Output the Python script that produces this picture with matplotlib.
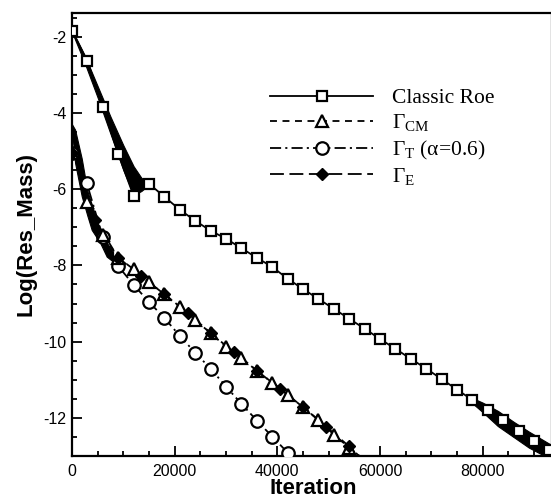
import matplotlib

matplotlib.use("Agg")
import matplotlib.pyplot as plt
from matplotlib.lines import Line2D
from matplotlib.ticker import MultipleLocator

# Classic Roe: residual at the plotted symbols (every 3000 iterations)
roe_iter = [0, 3000, 6000, 9000, 12000, 15000, 18000, 21000, 24000, 27000,
            30000, 33000, 36000, 39000, 42000, 45000, 48000, 51000, 54000,
            57000, 60000, 63000, 66000, 69000, 72000, 75000, 78000, 81000,
            84000, 87000, 90000, 93000]
roe_res = [-1.85, -2.64, -3.84, -5.07, -6.18, -5.86, -6.20, -6.54, -6.83,
           -7.09, -7.30, -7.55, -7.80, -8.04, -8.35, -8.62, -8.88, -9.14,
           -9.40, -9.66, -9.93, -10.19, -10.45, -10.71, -10.98, -11.26,
           -11.53, -11.79, -12.05, -12.34, -12.60, -12.83]
# oscillation envelopes of the Roe residual
roe_osc_iter = [0, 2500, 5000, 7500, 10000, 12000, 13500, 15000]
roe_osc_lo = [-1.88, -2.70, -3.60, -4.55, -5.50, -6.15, -6.05, -5.88]
roe_osc_hi = [-1.82, -2.50, -3.30, -4.10, -4.85, -5.40, -5.70, -5.86]
roe_tail_iter = [77000, 80000, 83000, 86000, 89000, 93500]
roe_tail_lo = [-11.50, -11.85, -12.22, -12.50, -12.78, -13.10]
roe_tail_hi = [-11.42, -11.60, -11.82, -12.10, -12.36, -12.72]

# Gamma_CM (triangles)
cm_iter = [0, 3000, 6000, 9000, 12000, 15000, 18000, 21000, 24000, 27000,
           30000, 33000, 36000, 39000, 42000, 45000, 48000, 51000, 54000]
cm_res = [-5.05, -6.35, -7.20, -7.80, -8.10, -8.44, -8.76, -9.08, -9.43,
          -9.78, -10.13, -10.43, -10.76, -11.08, -11.39, -11.72, -12.05,
          -12.44, -12.78]
cm_line_iter = [0, 600, 1900, 3000, 4500, 6000, 9000, 12000, 15000, 18000,
                21000, 24000, 27000, 30000, 33000, 36000, 39000, 42000,
                45000, 48000, 51000, 54000, 56500]
cm_line_res = [-4.40, -4.90, -5.70, -6.35, -6.85, -7.20, -7.80, -8.10,
               -8.44, -8.76, -9.08, -9.43, -9.78, -10.13, -10.43, -10.76,
               -11.08, -11.39, -11.72, -12.05, -12.44, -12.78, -13.05]

# Gamma_T, alpha = 0.6 (circles)
t_iter = [0, 3000, 6000, 9000, 12000, 15000, 18000, 21000, 24000, 27000,
          30000, 33000, 36000, 39000, 42000]
t_res = [-5.05, -5.85, -7.26, -8.02, -8.51, -8.96, -9.38, -9.85, -10.29,
         -10.71, -11.18, -11.63, -12.07, -12.49, -12.91]
t_line_iter = [0, 1200, 3000, 6000, 9000, 12000, 15000, 18000, 21000, 24000,
               27000, 30000, 33000, 36000, 39000, 42000, 43000]
t_line_res = [-4.40, -5.30, -5.90, -7.26, -8.02, -8.51, -8.96, -9.38,
              -9.85, -10.29, -10.71, -11.18, -11.63, -12.07, -12.49,
              -12.91, -13.10]

# Gamma_E (filled diamonds)
e_iter = [0, 4500, 9000, 13500, 18000, 22500, 27000, 31500, 36000, 40500,
          45000, 49500, 54000]
e_res = [-5.05, -6.80, -7.80, -8.28, -8.76, -9.25, -9.77, -10.28, -10.76,
         -11.23, -11.72, -12.23, -12.75]
e_line_iter = [0, 600, 1900, 3000, 4500, 9000, 13500, 18000, 22500, 27000,
               31500, 36000, 40500, 45000, 49500, 54000, 56300]
e_line_res = [-4.40, -4.95, -5.75, -6.40, -6.80, -7.80, -8.28, -8.76, -9.25,
              -9.77, -10.28, -10.76, -11.23, -11.72, -12.23, -12.75, -13.05]

# early oscillation shared by the Gamma curves
g_osc_iter = [0, 600, 1900, 3000, 3840, 5450, 6760, 8000]
g_osc_lo = [-4.44, -5.31, -6.19, -6.70, -7.07, -7.40, -7.77, -7.90]
g_osc_hi = [-4.30, -4.44, -5.20, -6.05, -6.40, -7.07, -7.40, -7.65]

labels = ["Classic Roe", "Γ$_{\\mathrm{CM}}$", "Γ$_{\\mathrm{T}}$ (α=0.6)",
          "Γ$_{\\mathrm{E}}$"]


def main() -> None:
    plt.rcParams["font.family"] = ["Liberation Sans", "DejaVu Sans"]
    plt.rcParams["axes.unicode_minus"] = False
    plt.rcParams["mathtext.fontset"] = "custom"
    plt.rcParams["mathtext.rm"] = "Liberation Serif"
    plt.rcParams["lines.scale_dashes"] = False

    fig = plt.figure(figsize=(5.51, 4.98), dpi=100)
    ax = fig.add_axes([72 / 551, 42 / 498, 480 / 551, 443 / 498])

    lw = 1.3
    dash_cm = (5, 4)
    dash_t = (8, 3, 1.5, 3)
    dash_e = (10, 4)

    # lines
    ax.plot(roe_iter, roe_res, color="black", lw=lw, zorder=2)
    ax.plot(t_line_iter, t_line_res, color="black", lw=lw, dashes=dash_t, zorder=2)
    ax.plot(cm_line_iter, cm_line_res, color="black", lw=lw, dashes=dash_cm, zorder=2)
    ax.plot(e_line_iter, e_line_res, color="black", lw=lw, dashes=dash_e, zorder=2)

    # oscillation bands
    ax.fill_between(roe_osc_iter, roe_osc_lo, roe_osc_hi, color="black", lw=0.8, zorder=2)
    ax.fill_between(roe_tail_iter, roe_tail_lo, roe_tail_hi, color="black", lw=0.8, zorder=2)
    ax.fill_between(g_osc_iter, g_osc_lo, g_osc_hi, color="black", lw=0.8, zorder=2)

    # symbols
    mk = dict(color="black", linestyle="none", mew=1.6, mfc="white", mec="black")
    ax.plot(roe_iter, roe_res, marker="s", ms=7.8, zorder=3, **mk)
    ax.plot(t_iter, t_res, marker="o", ms=9, zorder=3, **mk)
    ax.plot(cm_iter, cm_res, marker="^", ms=8, zorder=4, **mk)
    ax.plot(e_iter, e_res, marker="D", ms=6, zorder=5, color="black",
            linestyle="none", mfc="black", mec="black")

    ax.set_xlim(0, 93500)
    ax.set_ylim(-13, -1.38)
    ax.xaxis.set_major_locator(MultipleLocator(20000))
    ax.xaxis.set_minor_locator(MultipleLocator(5000))
    ax.yaxis.set_major_locator(MultipleLocator(2))
    ax.yaxis.set_minor_locator(MultipleLocator(0.5))
    ax.tick_params(which="both", direction="in", top=False, right=False,
                   width=1.3, labelsize=11.5)
    ax.tick_params(which="major", length=7)
    ax.tick_params(which="minor", length=3.5)
    ax.tick_params(axis="x", pad=6)
    ax.tick_params(axis="y", pad=4)
    for s in ax.spines.values():
        s.set_linewidth(1.6)

    fig.text(313 / 551, 1 - 488 / 498, "Iteration", fontsize=16,
             fontweight="bold", ha="center", va="center")
    fig.text(26 / 551, 1 - 234 / 498, "Log(Res_Mass)", fontsize=16,
             fontweight="bold", ha="center", va="center", rotation=90)

    handles = [
        Line2D([], [], color="black", lw=lw, marker="s", ms=7.8, mew=1.6, mfc="white"),
        Line2D([], [], color="black", lw=lw, dashes=dash_cm, marker="^", ms=8, mew=1.6, mfc="white"),
        Line2D([], [], color="black", lw=lw, dashes=dash_t, marker="o", ms=9, mew=1.6, mfc="white"),
        Line2D([], [], color="black", lw=lw, dashes=dash_e, marker="D", ms=6, mfc="black"),
    ]
    ax.legend(handles, labels, loc="upper left", bbox_to_anchor=(0.4125, 0.83),
              frameon=False, numpoints=1, handlelength=4.8, handletextpad=0.85,
              labelspacing=0.2, borderpad=0, borderaxespad=0,
              prop={"family": "Liberation Serif", "size": 15.5})

    fig.savefig("out.png", dpi=100)
    plt.close(fig)


if __name__ == "__main__":
    main()
